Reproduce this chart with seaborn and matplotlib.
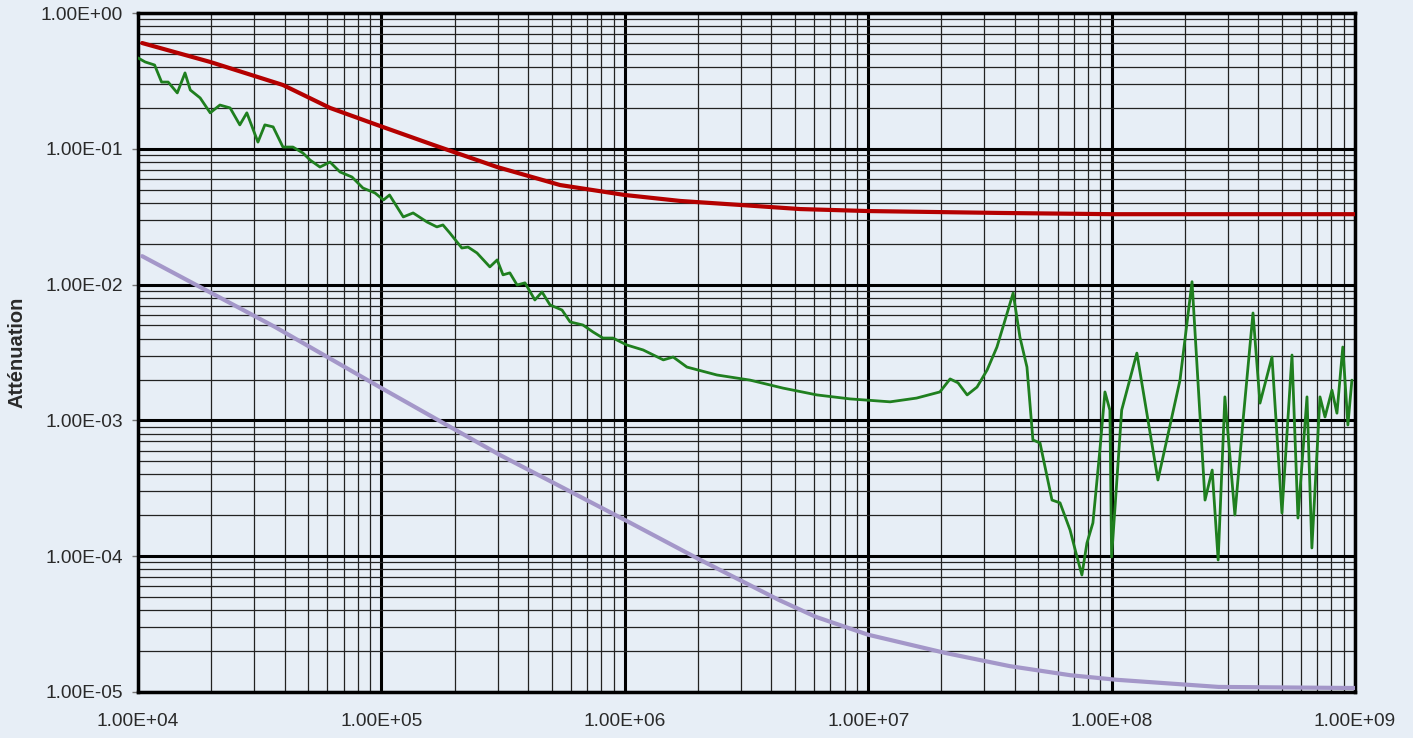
import numpy as np
import pandas as pd
import matplotlib
matplotlib.use("Agg")
import matplotlib.pyplot as plt
import seaborn as sns
from matplotlib.ticker import LogLocator, FuncFormatter, NullFormatter

# --- values (frequency in Hz, attenuation) ---
green_freq = [1.00e4, 1.07e4, 1.17e4, 1.25e4, 1.33e4, 1.45e4, 1.56e4, 1.64e4, 1.80e4, 1.98e4,
              2.17e4, 2.39e4, 2.62e4, 2.80e4, 3.11e4, 3.32e4, 3.59e4, 3.94e4, 4.33e4, 4.76e4,
              5.09e4, 5.59e4, 6.15e4, 6.76e4, 7.57e4, 8.40e4, 9.41e4, 1.02e5, 1.08e5, 1.23e5,
              1.35e5, 1.54e5, 1.69e5, 1.79e5, 1.91e5, 2.14e5, 2.27e5, 2.47e5, 2.79e5, 2.99e5,
              3.16e5, 3.37e5, 3.61e5, 3.89e5, 4.27e5, 4.57e5, 4.93e5, 5.52e5, 5.96e5, 6.73e5,
              7.40e5, 8.13e5, 8.94e5, 1.02e6, 1.19e6, 1.44e6, 1.58e6, 1.80e6, 2.39e6, 3.27e6,
              4.46e6, 6.16e6, 8.41e6, 9.88e6, 1.23e7, 1.58e7, 1.97e7, 2.17e7, 2.34e7, 2.55e7,
              2.80e7, 3.08e7, 3.38e7, 3.65e7, 3.94e7, 4.20e7, 4.49e7, 4.75e7, 5.08e7, 5.69e7,
              6.14e7, 6.75e7, 7.21e7, 7.55e7, 7.92e7, 8.38e7, 8.95e7, 9.39e7, 9.84e7, 1.00e8,
              1.10e8, 1.27e8, 1.55e8, 1.91e8, 2.14e8, 2.42e8, 2.59e8, 2.74e8, 2.92e8, 3.21e8,
              3.47e8, 3.81e8, 4.07e8, 4.56e8, 5.01e8, 5.51e8, 5.83e8, 6.35e8, 6.65e8, 7.18e8,
              7.53e8, 8.04e8, 8.43e8, 8.91e8, 9.35e8, 9.71e8]
green_att = [0.467, 0.436, 0.414, 0.310, 0.310, 0.258, 0.362, 0.271, 0.237, 0.184,
             0.210, 0.200, 0.150, 0.184, 0.112, 0.150, 0.145, 0.103, 0.103, 0.0931,
             0.0827, 0.0734, 0.0799, 0.0675, 0.0620, 0.0514, 0.0473, 0.0420, 0.0457, 0.0315,
             0.0337, 0.0289, 0.0266, 0.0275, 0.0240, 0.0186, 0.0189, 0.0171, 0.0135, 0.0152,
             0.0118, 0.0122, 0.00993, 0.0103, 0.00771, 0.00882, 0.00708, 0.00650, 0.00531, 0.00504,
             0.00448, 0.00404, 0.00404, 0.00359, 0.00330, 0.00279, 0.00293, 0.00247, 0.00216, 0.00198,
             0.00173, 0.00154, 0.00144, 0.00141, 0.00137, 0.00146, 0.00162, 0.00202, 0.00189, 0.00154,
             0.00176, 0.00235, 0.00347, 0.00548, 0.00867, 0.00411, 0.00247, 0.000718, 0.000682, 0.000259,
             0.000247, 0.000156, 0.0000987, 0.0000727, 0.000125, 0.000176, 0.000605, 0.00162, 0.00119, 0.0000987,
             0.00119, 0.00313, 0.000364, 0.00198, 0.0105, 0.000259, 0.000431, 0.0000938, 0.00149, 0.000201,
             0.00101, 0.00618, 0.00134, 0.00293, 0.000208, 0.00303, 0.000191, 0.00149, 0.000115, 0.00149,
             0.00106, 0.00167, 0.00113, 0.00347, 0.000925, 0.00198]

red_freq = [1.04e4, 1.98e4, 3.94e4, 6.15e4, 9.59e4, 1.63e5, 2.99e5, 5.42e5, 1.00e6, 1.69e6,
            2.97e6, 5.25e6, 1.00e7, 3.47e7, 1.00e8, 1.00e9]
red_att = [0.601, 0.436, 0.295, 0.200, 0.150, 0.107, 0.0734, 0.0541, 0.0457, 0.0413,
           0.0386, 0.0360, 0.0348, 0.0337, 0.0330, 0.0330]

lav_freq = [1.04e4, 3.66e4, 1.00e5, 3.07e5, 1.00e6, 2.04e6, 4.30e6, 6.11e6, 1.00e7, 2.07e7,
            3.82e7, 6.75e7, 1.05e8, 2.75e8, 1.00e9]
lav_att = [0.0162, 0.00487, 0.00173, 5.56e-4, 1.85e-4, 9.4e-5, 4.76e-5, 3.57e-5, 2.64e-5, 1.94e-5,
           1.55e-5, 1.33e-5, 1.23e-5, 1.09e-5, 1.07e-5]

bg = "#e7eef6"
sns.set_theme(style="white", rc={"figure.facecolor": bg, "axes.facecolor": bg})
plt.rcParams['font.family'] = ['Liberation Sans', 'DejaVu Sans']

green = pd.DataFrame({"freq": green_freq, "att": green_att})
red = pd.DataFrame({"freq": red_freq, "att": red_att})
lav = pd.DataFrame({"freq": lav_freq, "att": lav_att})

fig = plt.figure(figsize=(14.13, 7.38), dpi=100)
ax = fig.add_axes([138 / 1413, 46 / 738, 1217 / 1413, 679 / 738])
ax.set_xscale("log")
ax.set_yscale("log")

sns.lineplot(data=green, x="freq", y="att", ax=ax, color="#1f7f1f", linewidth=2.0,
             estimator=None, sort=False, zorder=3)
sns.lineplot(data=red, x="freq", y="att", ax=ax, color="#b40000", linewidth=3.0,
             estimator=None, sort=False, zorder=3)
sns.lineplot(data=lav, x="freq", y="att", ax=ax, color="#a497c9", linewidth=3.0,
             estimator=None, sort=False, zorder=3)

ax.set_xlim(1e4, 1e9)
ax.set_ylim(1e-5, 1e0)

for axis in (ax.xaxis, ax.yaxis):
    axis.set_major_locator(LogLocator(base=10, numticks=20))
    axis.set_minor_locator(LogLocator(base=10, subs=np.arange(2, 10), numticks=20))
    axis.set_major_formatter(FuncFormatter(lambda v, p: f"{v:.2E}"))
    axis.set_minor_formatter(NullFormatter())

ax.grid(which="major", color="black", linewidth=2.2, zorder=1)
ax.grid(which="minor", color="#222222", linewidth=0.9, zorder=1)
ax.set_axisbelow(True)

for s in ax.spines.values():
    s.set_color("black")
    s.set_linewidth(2.5)

ax.tick_params(axis="y", which="major", length=4, width=1, color="#777777", pad=7,
               labelsize=13.8, labelcolor="#2a2a2a", left=True)
ax.tick_params(axis="x", which="major", length=0, pad=15, labelsize=13.8, labelcolor="#2a2a2a")
ax.tick_params(which="minor", length=0)

ax.set_xlabel("")
ax.set_ylabel("Atténuation", fontweight="bold", fontsize=14.5, color="#2a2a2a")
ax.yaxis.set_label_coords(-0.092, 0.5)

fig.savefig("out.png", dpi=100, facecolor=bg)
